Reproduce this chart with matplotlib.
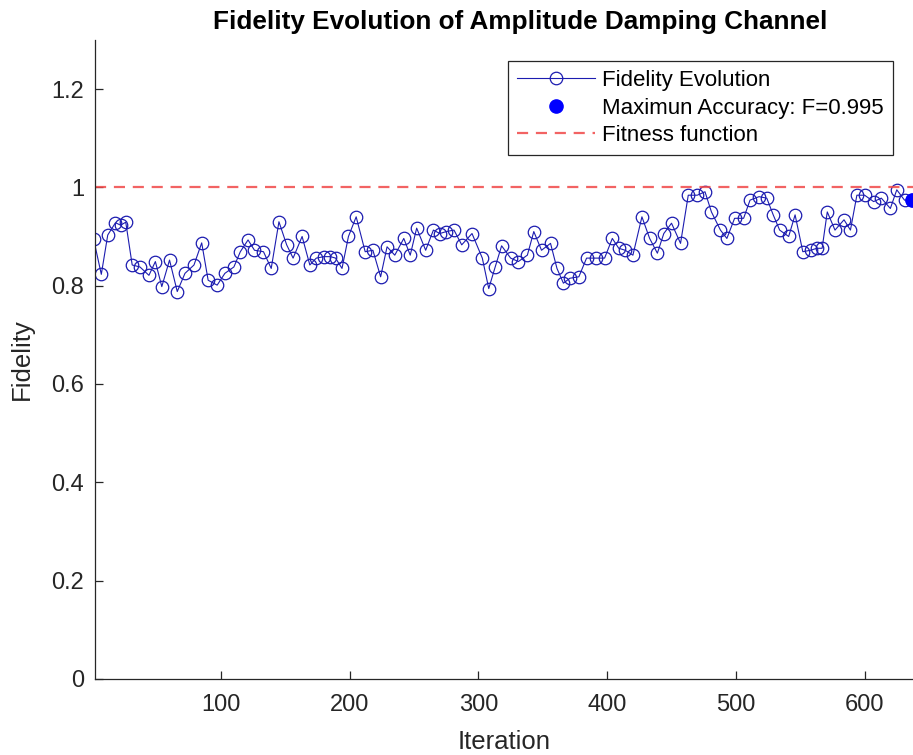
import numpy as np
import matplotlib.pyplot as plt

plt.rcParams['font.family'] = ['Liberation Sans', 'DejaVu Sans']

# values
iteration = [1, 7, 12, 18, 22, 26, 31, 37, 44, 49, 54, 60, 66, 72, 79, 85, 90, 97, 103, 110,
             115, 121, 126, 133, 139, 145, 151, 156, 163, 169, 174, 180, 185, 189, 194, 199, 205, 212, 218, 224,
             229, 235, 242, 247, 252, 259, 265, 270, 275, 281, 287, 295, 303, 308, 313, 318, 325, 331, 338, 343,
             349, 356, 361, 366, 371, 378, 384, 391, 398, 404, 409, 414, 420, 427, 433, 439, 444, 450, 457, 463,
             470, 476, 481, 488, 493, 499, 506, 511, 518, 524, 529, 534, 541, 546, 552, 558, 563, 567, 571, 577,
             584, 589, 594, 600, 607, 613, 620, 625, 631, 637]
fidelity = [0.895, 0.823, 0.903, 0.928, 0.923, 0.929, 0.842, 0.838, 0.821, 0.849,
            0.798, 0.852, 0.788, 0.825, 0.842, 0.887, 0.811, 0.801, 0.825, 0.838,
            0.869, 0.893, 0.872, 0.869, 0.835, 0.930, 0.883, 0.856, 0.900, 0.842,
            0.856, 0.859, 0.859, 0.856, 0.835, 0.900, 0.940, 0.869, 0.872, 0.818,
            0.879, 0.862, 0.896, 0.862, 0.917, 0.872, 0.913, 0.906, 0.910, 0.913,
            0.883, 0.906, 0.856, 0.794, 0.838, 0.881, 0.856, 0.849, 0.862, 0.910,
            0.872, 0.886, 0.835, 0.805, 0.815, 0.818, 0.856, 0.856, 0.856, 0.896,
            0.876, 0.872, 0.862, 0.940, 0.896, 0.866, 0.906, 0.927, 0.886, 0.984,
            0.984, 0.991, 0.950, 0.913, 0.896, 0.937, 0.937, 0.974, 0.981, 0.978,
            0.944, 0.913, 0.900, 0.944, 0.869, 0.872, 0.876, 0.876, 0.950, 0.913,
            0.934, 0.913, 0.984, 0.984, 0.971, 0.978, 0.957, 0.995, 0.974, 0.974]
max_fidelity = 0.995
fitness = 1.0

fig = plt.figure(figsize=(9.13, 7.55), dpi=100)
ax = fig.add_axes([95/913, 76.2/755, 818/913, 638.9/755])

ax.plot(iteration, fidelity, '-o', color='#1c1cb0', lw=0.8, ms=9,
        mfc='none', mec='#1c1cb0', mew=0.9, label='Fidelity Evolution')
ax.plot(iteration[-1], fidelity[-1], 'o', color='#0000ff', ms=9.5,
        label='Maximun Accuracy: F=%.3f' % max_fidelity)
ax.axhline(fitness, color='#f04848', lw=1.6, ls=(0, (5, 3.5)), alpha=0.85,
           label='Fitness function')

ax.set_xlim(2.1, 637.6)
ax.set_ylim(0, 1.3)
ax.set_xticks([100, 200, 300, 400, 500, 600])
ax.set_yticks([0, 0.2, 0.4, 0.6, 0.8, 1, 1.2])
ax.set_yticklabels(['0', '0.2', '0.4', '0.6', '0.8', '1', '1.2'])

for s in ['top', 'right']:
    ax.spines[s].set_visible(False)
for s in ['left', 'bottom']:
    ax.spines[s].set_color('#262626')
    ax.spines[s].set_linewidth(0.9)
ax.tick_params(direction='in', length=6, width=0.9, color='#262626',
               labelsize=17, labelcolor='#262626')
ax.tick_params(axis='y', pad=8)
ax.tick_params(axis='x', pad=11)

ax.set_xlabel('Iteration', fontsize=18.5, color='#262626', labelpad=10)
ax.set_ylabel('Fidelity', fontsize=18.5, color='#262626', labelpad=12)
ax.set_title('Fidelity Evolution of Amplitude Damping Channel', fontsize=18.8,
             fontweight='bold', x=0.52, pad=8)

leg = ax.legend(loc='upper right', bbox_to_anchor=(893/913, 694/755),
                bbox_transform=fig.transFigure, borderaxespad=0, fontsize=16,
                fancybox=False, framealpha=1, edgecolor='#262626', numpoints=1,
                handlelength=3.5, handletextpad=0.35, labelspacing=0.3,
                borderpad=0.4)
leg.get_frame().set_linewidth(0.9)

plt.savefig('out.png', dpi=100)
